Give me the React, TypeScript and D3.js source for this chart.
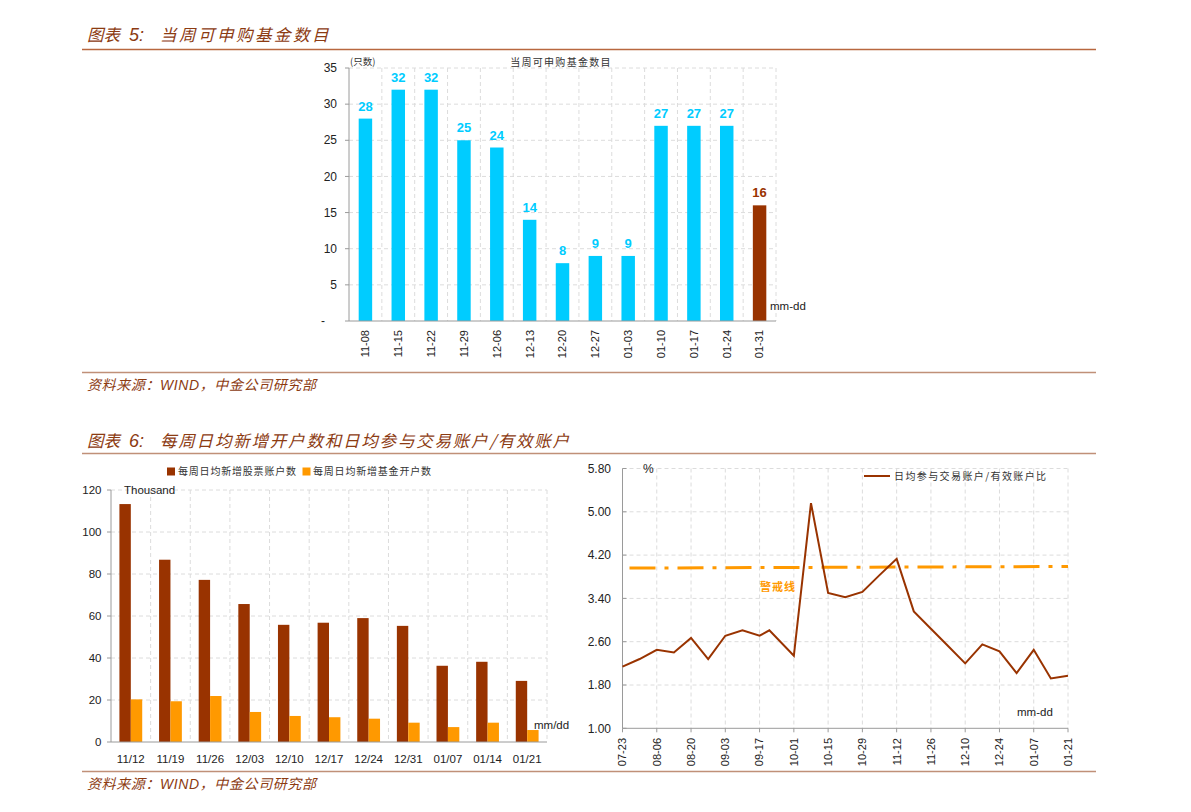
import React from 'react';
import * as d3 from 'd3';

// ---------- Data: chart 5 ----------
const fundWeeks = ['11-08', '11-15', '11-22', '11-29', '12-06', '12-13', '12-20', '12-27', '01-03', '01-10', '01-17', '01-24', '01-31'];
const fundCounts = [28, 32, 32, 25, 24, 14, 8, 9, 9, 27, 27, 27, 16];
const fundTicks = [0, 5, 10, 15, 20, 25, 30, 35];

// ---------- Data: chart 6 left ----------
const accountWeeks = ['11/12', '11/19', '11/26', '12/03', '12/10', '12/17', '12/24', '12/31', '01/07', '01/14', '01/21'];
const stockAccounts = [113.3, 86.8, 77.2, 65.7, 55.8, 56.8, 59.0, 55.3, 36.3, 38.2, 29.1];
const fundAccounts = [20.3, 19.4, 21.9, 14.3, 12.4, 11.8, 11.1, 9.2, 7.1, 9.2, 5.7];
const accountTicks = [0, 20, 40, 60, 80, 100, 120];

// ---------- Data: chart 6 right ----------
const ratioDates = [
  '2018-07-23', '2018-07-30', '2018-08-06', '2018-08-13', '2018-08-20', '2018-08-27', '2018-09-03',
  '2018-09-10', '2018-09-17', '2018-09-21', '2018-10-01', '2018-10-08', '2018-10-15', '2018-10-22',
  '2018-10-29', '2018-11-05', '2018-11-12', '2018-11-19', '2018-11-26', '2018-12-03', '2018-12-10',
  '2018-12-17', '2018-12-24', '2018-12-31', '2019-01-07', '2019-01-14', '2019-01-21',
];
const ratioValues = [
  2.14, 2.28, 2.45, 2.40, 2.67, 2.28, 2.71,
  2.81, 2.71, 2.81, 2.34, 5.16, 3.50, 3.42,
  3.52, 3.83, 4.13, 3.16, 2.84, 2.52, 2.20,
  2.55, 2.42, 2.02, 2.45, 1.92, 1.97,
];
const warningDates = ['2018-07-23', '2019-01-21'];
const warningValues = [3.96, 3.99];
const ratioTicks = [1.0, 1.8, 2.6, 3.4, 4.2, 5.0, 5.8];

// ---------- Styles ----------
const CYAN = '#00CCFF';
const BROWN = '#993300';
const ORANGE = '#FF9900';
const TITLE = '#8C3B12';
const AXIS = '#9a9a9a';
const GRID = '#dcdcdc';
const SANS = '"Liberation Sans", Arial, sans-serif';
const CJK = '"Noto Sans CJK SC", "Noto Sans", sans-serif';

const parse = d3.timeParse('%Y-%m-%d');
const fmtMD = d3.timeFormat('%m-%d');

function Header({ y, num, text, spacing }: { y: number; num: string; text: string; spacing: number }) {
  return (
    <g>
      <text y={y} fontStyle="italic" fill={TITLE} fontSize={16.5}>
        <tspan x={87} fontFamily={CJK}>图表</tspan>
        <tspan x={129} fontFamily={SANS} fontSize={18}>{num}</tspan>
        <tspan x={160} fontFamily={CJK} letterSpacing={spacing}>{text}</tspan>
      </text>
    </g>
  );
}

function Source({ y }: { y: number }) {
  return (
    <text x={87} y={y} fontStyle="italic" fill={TITLE} fontSize={14} fontFamily={CJK} letterSpacing={0.6}>
      资料来源：<tspan fontFamily={SANS}>WIND</tspan>，中金公司研究部
    </text>
  );
}

function FundChart() {
  const x = d3.scaleBand<string>().domain(fundWeeks).range([349, 776]).padding(0);
  const y = d3.scaleLinear().domain([0, 35]).range([321, 68]);
  const bw = x.bandwidth();
  const barW = bw * 0.41;
  return (
    <g>
      {/* grid */}
      {fundTicks.filter((t) => t > 0).map((t) => (
        <line key={'h' + t} x1={349} x2={776} y1={y(t)} y2={y(t)} stroke={GRID} strokeDasharray="4,3" />
      ))}
      {fundWeeks.map((w) => (
        <line key={'v' + w} x1={(x(w) as number) + bw} x2={(x(w) as number) + bw} y1={y(35)} y2={y(0)} stroke={GRID} strokeDasharray="4,3" />
      ))}
      {/* bars */}
      {fundWeeks.map((w, i) => (
        <rect key={w} x={(x(w) as number) + (bw - barW) / 2} y={y(fundCounts[i])} width={barW} height={y(0) - y(fundCounts[i])}
          fill={i === fundWeeks.length - 1 ? BROWN : CYAN} />
      ))}
      {fundWeeks.map((w, i) => (
        <text key={'l' + w} x={(x(w) as number) + bw / 2} y={y(fundCounts[i]) - 8} textAnchor="middle" fontFamily={SANS}
          fontWeight="bold" fontSize={13} fill={i === fundWeeks.length - 1 ? BROWN : CYAN}>{fundCounts[i]}</text>
      ))}
      {/* axes */}
      <line x1={349} x2={349} y1={y(35)} y2={y(0)} stroke={AXIS} />
      <line x1={349} x2={776} y1={y(0)} y2={y(0)} stroke={AXIS} />
      {fundTicks.map((t) => (
        <g key={'t' + t}>
          <line x1={345} x2={349} y1={y(t)} y2={y(t)} stroke={AXIS} />
          <text x={t === 0 ? 325 : 337} y={y(t)} dy="0.35em" textAnchor="end" fontFamily={SANS} fontSize={12} fill="#222">
            {t === 0 ? '-' : t}
          </text>
        </g>
      ))}
      {fundWeeks.map((w) => (
        <text key={'x' + w} transform={`translate(${(x(w) as number) + bw / 2},330) rotate(-90)`} dy="0.35em" textAnchor="end"
          fontFamily={SANS} fontSize={11} fill="#222">{w}</text>
      ))}
      <text x={350} y={62} dy="0.35em" fontFamily={CJK} fontSize={9.5} fill="#333">(只数)</text>
      <text x={561} y={62} dy="0.35em" textAnchor="middle" fontFamily={CJK} fontSize={10} letterSpacing={1.3} fill="#333">当周可申购基金数目</text>
      <text x={770} y={306} dy="0.35em" fontFamily={SANS} fontSize={11.5} fill="#222">mm-dd</text>
    </g>
  );
}

function AccountChart() {
  const x = d3.scaleBand<string>().domain(accountWeeks).range([111, 547]).padding(0);
  const y = d3.scaleLinear().domain([0, 120]).range([742, 490]);
  const bw = x.bandwidth();
  const barW = 11.4;
  return (
    <g>
      {accountTicks.filter((t) => t > 0).map((t) => (
        <line key={'h' + t} x1={111} x2={547} y1={y(t)} y2={y(t)} stroke={GRID} strokeDasharray="4,3" />
      ))}
      {accountWeeks.map((w) => (
        <line key={'v' + w} x1={(x(w) as number) + bw} x2={(x(w) as number) + bw} y1={y(120)} y2={y(0)} stroke={GRID} strokeDasharray="4,3" />
      ))}
      {accountWeeks.map((w, i) => {
        const cx = (x(w) as number) + bw / 2;
        return (
          <g key={w}>
            <rect x={cx - barW} y={y(stockAccounts[i])} width={barW} height={y(0) - y(stockAccounts[i])} fill={BROWN} />
            <rect x={cx} y={y(fundAccounts[i])} width={barW} height={y(0) - y(fundAccounts[i])} fill={ORANGE} />
          </g>
        );
      })}
      <line x1={111} x2={111} y1={y(120)} y2={y(0)} stroke={AXIS} />
      <line x1={111} x2={547} y1={y(0)} y2={y(0)} stroke={AXIS} />
      {accountTicks.map((t) => (
        <g key={'t' + t}>
          <line x1={107} x2={111} y1={y(t)} y2={y(t)} stroke={AXIS} />
          <text x={101.5} y={y(t)} dy="0.35em" textAnchor="end" fontFamily={SANS} fontSize={11.5} fill="#222">{t}</text>
        </g>
      ))}
      {accountWeeks.map((w) => (
        <text key={'x' + w} x={(x(w) as number) + bw / 2} y={759} dy="0.35em" textAnchor="middle" fontFamily={SANS} fontSize={11.5} fill="#222">{w}</text>
      ))}
      <text x={124} y={490} dy="0.35em" fontFamily={SANS} fontSize={11.5} fill="#222">Thousand</text>
      <text x={534} y={725} dy="0.35em" fontFamily={SANS} fontSize={11.5} fill="#222">mm/dd</text>
      {/* legend */}
      <rect x={167} y={467.5} width={8} height={8} fill={BROWN} />
      <text x={178} y={471.5} dy="0.35em" fontFamily={CJK} fontSize={10} letterSpacing={0.8} fill="#333">每周日均新增股票账户数</text>
      <rect x={302.5} y={467.5} width={8} height={8} fill={ORANGE} />
      <text x={313} y={471.5} dy="0.35em" fontFamily={CJK} fontSize={10} letterSpacing={0.8} fill="#333">每周日均新增基金开户数</text>
    </g>
  );
}

function RatioChart() {
  const dates = ratioDates.map((d) => parse(d) as Date);
  const start = dates[0];
  const end = dates[dates.length - 1];
  const x = d3.scaleTime().domain([start, end]).range([622.5, 1068]);
  const y = d3.scaleLinear().domain([1, 5.8]).range([728.3, 468.5]);
  const tickDates = d3.range(0, d3.timeDay.count(start, end) + 1, 14).map((k) => d3.timeDay.offset(start, k));
  const line = d3.line<number>().x((_, i) => x(dates[i])).y((v) => y(v));
  const wDates = warningDates.map((d) => parse(d) as Date);
  const wLine = d3.line<number>().x((_, i) => x(wDates[i])).y((v) => y(v));
  return (
    <g>
      {ratioTicks.filter((t) => t > 1).map((t) => (
        <line key={'h' + t} x1={622.5} x2={1068} y1={y(t)} y2={y(t)} stroke={GRID} strokeDasharray="4,3" />
      ))}
      {tickDates.slice(1).map((d) => (
        <line key={'v' + d.getTime()} x1={x(d)} x2={x(d)} y1={y(5.8)} y2={y(1)} stroke={GRID} strokeDasharray="4,3" />
      ))}
      <line x1={622.5} x2={622.5} y1={y(5.8)} y2={y(1)} stroke={AXIS} />
      <line x1={622.5} x2={1068} y1={y(1)} y2={y(1)} stroke={AXIS} />
      {ratioTicks.map((t) => (
        <g key={'t' + t}>
          <line x1={622.5} x2={626.5} y1={y(t)} y2={y(t)} stroke={AXIS} />
          <text x={611} y={y(t)} dy="0.35em" textAnchor="end" fontFamily={SANS} fontSize={12} fill="#222">{t.toFixed(2)}</text>
        </g>
      ))}
      {tickDates.map((d) => (
        <g key={'x' + d.getTime()}>
          <line x1={x(d)} x2={x(d)} y1={y(1)} y2={y(1) + 4} stroke={AXIS} />
          <text transform={`translate(${x(d)},738) rotate(-90)`} dy="0.35em" textAnchor="end" fontFamily={SANS} fontSize={11} fill="#222">{fmtMD(d)}</text>
        </g>
      ))}
      <path d={wLine(warningValues) || ''} fill="none" stroke={ORANGE} strokeWidth={3} strokeDasharray="26,9,4,9" strokeDashoffset={41} />
      <path d={line(ratioValues) || ''} fill="none" stroke={BROWN} strokeWidth={2} strokeLinejoin="miter" />
      <text x={760} y={587} dy="0.35em" fontFamily={CJK} fontSize={11} fontWeight="bold" letterSpacing={1} fill={ORANGE}>警戒线</text>
      <text x={643} y={469} dy="0.35em" fontFamily={SANS} fontSize={12} fill="#222">%</text>
      <text x={1017} y={712} dy="0.35em" fontFamily={SANS} fontSize={11.5} fill="#222">mm-dd</text>
      {/* legend */}
      <line x1={864} x2={890} y1={476} y2={476} stroke={BROWN} strokeWidth={2} />
      <text x={894} y={476.5} dy="0.35em" fontFamily={CJK} fontSize={10} letterSpacing={1.4} fill="#333">日均参与交易账户/有效账户比</text>
    </g>
  );
}

export default function App() {
  return (
    <svg width={1191} height={812} style={{ position: 'absolute', left: 0, top: 0, background: '#fff' }}>
      <rect x={0} y={0} width={1191} height={812} fill="#fff" />
      <Header y={41} num="5:" text="当周可申购基金数目" spacing={2.5} />
      <line x1={82} x2={1096} y1={49.5} y2={49.5} stroke="#B8673F" strokeWidth={1.5} />
      <FundChart />
      <line x1={82} x2={1096} y1={372.5} y2={372.5} stroke="#C09078" strokeWidth={1.5} />
      <Source y={390} />
      <Header y={447} num="6:" text="每周日均新增开户数和日均参与交易账户/有效账户" spacing={1.8} />
      <line x1={82} x2={1096} y1={453.5} y2={453.5} stroke="#C09078" strokeWidth={1.5} />
      <AccountChart />
      <RatioChart />
      <line x1={82} x2={1096} y1={771.5} y2={771.5} stroke="#C09078" strokeWidth={1.5} />
      <Source y={789} />
    </svg>
  );
}
